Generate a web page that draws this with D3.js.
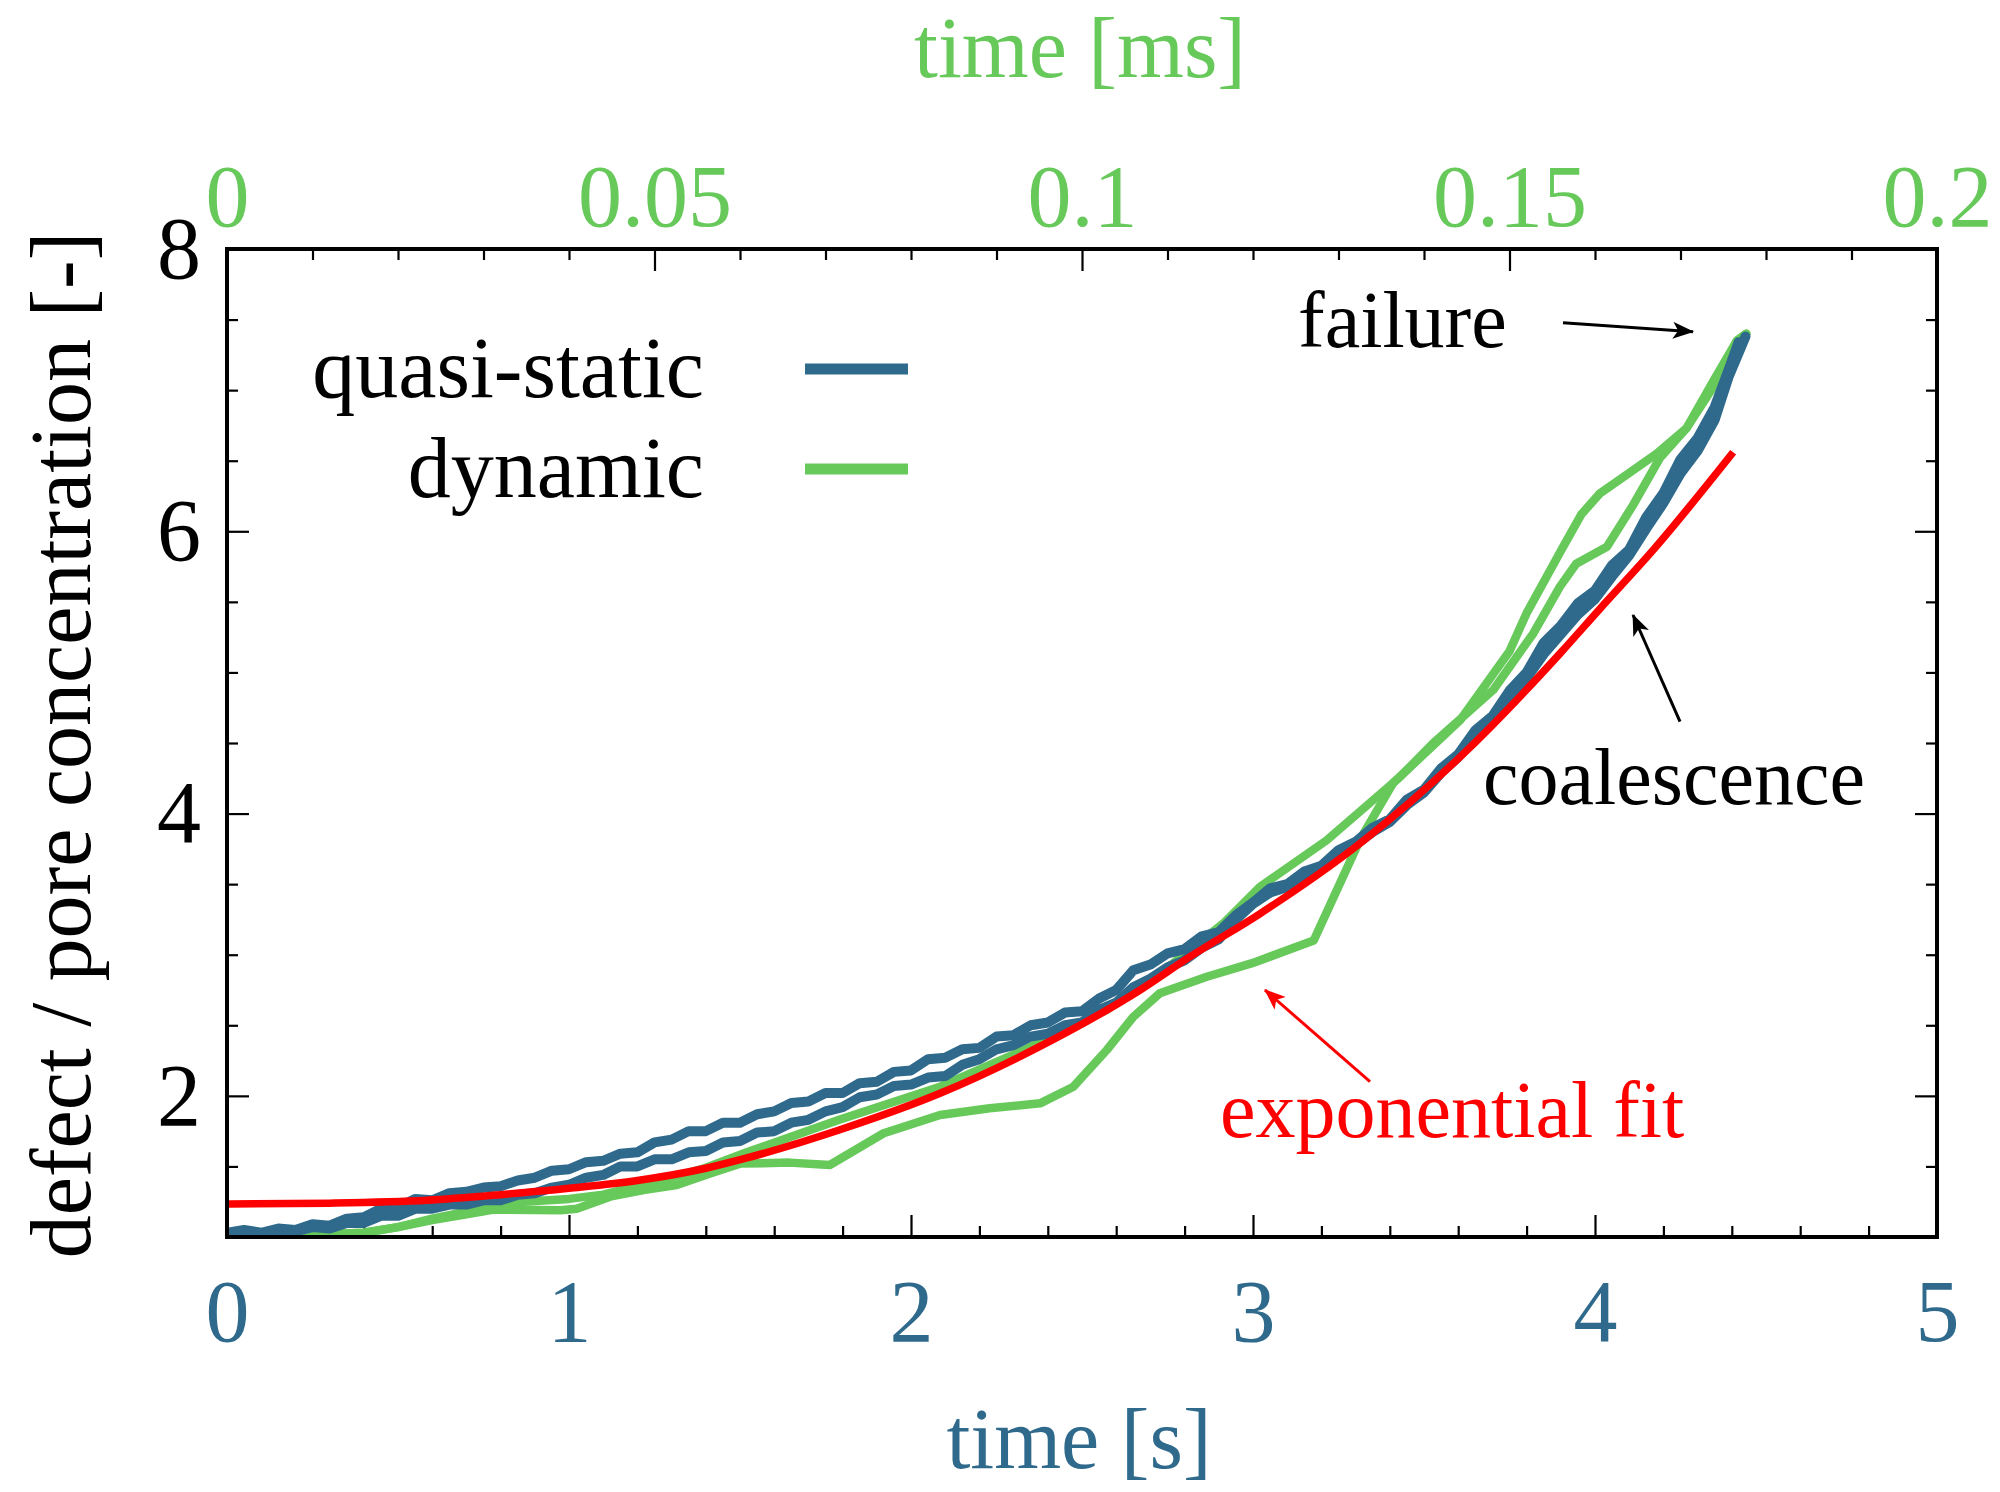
<!DOCTYPE html>
<html><head><meta charset="utf-8">
<script src="https://cdn.jsdelivr.net/npm/d3@7"></script>
<style>body{margin:0;background:#fff} svg{display:block} text{font-family:"Liberation Serif","Times New Roman",serif}</style>
</head><body><svg id="c" width="2000" height="1492"></svg>
<script>
// ---- data ----
const xTicksS = [0,1,2,3,4,5];
const xTicksMs = [0,0.05,0.1,0.15,0.2];
const xTickMsLabels = ["0","0.05","0.1","0.15","0.2"];
const yTicks = [2,4,6,8];
const legendNames = ["quasi-static","dynamic"];
const annotations = ["failure","coalescence","exponential fit"];

// quasi-static runs: [time s, concentration]
const quasiStatic1 = [[0,1.03],[0.05,1.05],[0.1,1.03],[0.15,1.06],[0.2,1.05],[0.25,1.09],[0.3,1.08],[0.35,1.13],[0.4,1.14],[0.45,1.20],[0.5,1.21],[0.55,1.27],[0.6,1.26],[0.65,1.31],[0.7,1.32],[0.75,1.35],[0.8,1.36],[0.85,1.40],[0.9,1.42],[0.95,1.47],[1.0,1.48],[1.05,1.53],[1.1,1.54],[1.15,1.59],[1.2,1.60],[1.25,1.67],[1.3,1.69],[1.35,1.75],[1.4,1.75],[1.45,1.81],[1.5,1.81],[1.55,1.87],[1.6,1.89],[1.65,1.95],[1.7,1.96],[1.75,2.02],[1.8,2.02],[1.85,2.09],[1.9,2.10],[1.95,2.17],[2.0,2.18],[2.05,2.26],[2.1,2.27],[2.15,2.33],[2.2,2.34],[2.25,2.42],[2.3,2.43],[2.35,2.50],[2.4,2.52],[2.45,2.59],[2.5,2.60],[2.55,2.69],[2.6,2.75],[2.65,2.89],[2.7,2.93],[2.75,3.01],[2.8,3.04],[2.85,3.13],[2.9,3.16],[2.95,3.28],[3.0,3.37],[3.05,3.47],[3.1,3.50],[3.15,3.59],[3.2,3.63],[3.25,3.74],[3.3,3.80],[3.35,3.90],[3.4,3.96],[3.45,4.10],[3.5,4.17],[3.55,4.32],[3.6,4.42],[3.65,4.59],[3.7,4.69],[3.75,4.87],[3.8,5.00],[3.85,5.21],[3.9,5.33],[3.95,5.49],[4.0,5.58],[4.05,5.76],[4.1,5.87],[4.15,6.10],[4.2,6.27],[4.25,6.51],[4.3,6.66],[4.35,6.88],[4.39,7.14],[4.42,7.34]];
const quasiStatic2 = [[0,1.02],[0.05,1.04],[0.1,1.02],[0.15,1.05],[0.2,1.04],[0.25,1.07],[0.3,1.06],[0.35,1.10],[0.4,1.10],[0.45,1.15],[0.5,1.15],[0.55,1.20],[0.6,1.20],[0.65,1.23],[0.7,1.23],[0.75,1.26],[0.8,1.26],[0.85,1.30],[0.9,1.31],[0.95,1.35],[1.0,1.37],[1.05,1.42],[1.1,1.44],[1.15,1.50],[1.2,1.50],[1.25,1.55],[1.3,1.55],[1.35,1.60],[1.4,1.61],[1.45,1.67],[1.5,1.68],[1.55,1.74],[1.6,1.75],[1.65,1.81],[1.7,1.83],[1.75,1.89],[1.8,1.92],[1.85,1.99],[1.9,2.01],[1.95,2.07],[2.0,2.08],[2.05,2.13],[2.1,2.14],[2.15,2.22],[2.2,2.26],[2.25,2.33],[2.3,2.36],[2.35,2.42],[2.4,2.44],[2.45,2.50],[2.5,2.52],[2.55,2.61],[2.6,2.66],[2.65,2.77],[2.7,2.83],[2.75,2.91],[2.8,2.96],[2.85,3.05],[2.9,3.11],[2.95,3.25],[3.0,3.36],[3.05,3.44],[3.1,3.48],[3.15,3.56],[3.2,3.61],[3.25,3.71],[3.3,3.78],[3.35,3.87],[3.4,3.94],[3.45,4.06],[3.5,4.15],[3.55,4.29],[3.6,4.40],[3.65,4.55],[3.7,4.66],[3.75,4.82],[3.8,4.96],[3.85,5.13],[3.9,5.27],[3.95,5.41],[4.0,5.52],[4.05,5.68],[4.1,5.83],[4.15,6.02],[4.2,6.20],[4.25,6.41],[4.3,6.57],[4.35,6.79],[4.39,7.09],[4.44,7.38]];

// dynamic runs: [time ms, concentration]
const dynamic1 = [[0,1.0],[0.008,1.01],[0.016,1.03],[0.020,1.07],[0.024,1.13],[0.028,1.18],[0.032,1.24],[0.040,1.27],[0.044,1.30],[0.048,1.36],[0.052,1.42],[0.056,1.49],[0.0608,1.60],[0.0716,1.83],[0.0834,2.065],[0.0932,2.325],[0.1029,2.61],[0.1107,2.94],[0.1165,3.22],[0.1208,3.48],[0.1286,3.81],[0.1372,4.26],[0.1411,4.50],[0.1481,4.876],[0.1528,5.278],[0.1559,5.608],[0.1578,5.77],[0.1614,5.89],[0.1645,6.19],[0.1676,6.52],[0.1707,6.73],[0.1738,7.06],[0.1766,7.35],[0.1777,7.40]];
const dynamic2 = [[0,1.0],[0.008,1.01],[0.016,1.03],[0.020,1.07],[0.024,1.12],[0.028,1.16],[0.0312,1.195],[0.039,1.19],[0.0409,1.20],[0.0448,1.286],[0.0487,1.333],[0.0526,1.368],[0.0565,1.45],[0.060,1.52],[0.0658,1.527],[0.0705,1.51],[0.0768,1.735],[0.0834,1.864],[0.0892,1.912],[0.0951,1.947],[0.099,2.065],[0.1029,2.325],[0.106,2.56],[0.1091,2.727],[0.1146,2.844],[0.1199,2.94],[0.1271,3.10],[0.1325,3.813],[0.1364,4.217],[0.1442,4.66],[0.1500,5.15],[0.152,5.42],[0.1559,5.85],[0.1584,6.12],[0.1606,6.27],[0.1637,6.40],[0.1672,6.55],[0.1707,6.73],[0.1738,7.02],[0.1766,7.35],[0.1777,7.40]];

// exponential fit: [time s, concentration]
const expFit = [[0,1.234],[0.3,1.24],[0.585,1.26],[0.8,1.30],[1.0,1.345],[1.2,1.40],[1.4,1.487],[1.52,1.56],[1.79,1.758],[2.085,2.018],[2.377,2.35],[2.67,2.75],[2.816,2.986],[3.02,3.29],[3.313,3.789],[3.605,4.40],[3.898,5.135],[4.014,5.45],[4.171,5.87],[4.404,6.56]];

// ---- drawing ----
const BLUE = "#2f6a8c", GREEN = "#66c95a", RED = "#ff0000";
const svg = d3.select("#c");
const L = 227, R = 1937, T = 249, B = 1237;
const x = d3.scaleLinear().domain([0,5]).range([L,R]);
const xMs = d3.scaleLinear().domain([0,0.2]).range([L,R]);
const y = d3.scaleLinear().domain([1,8]).range([B,T]);

function styleAxis(g, color, size){
  g.select(".domain").remove();
  g.selectAll(".tick line").attr("stroke","#000").attr("stroke-width",2.2);
  g.selectAll("text").attr("fill",color).style("font-family",'"Liberation Serif","Times New Roman",serif').style("font-size",size+"px");
}
const minorS = d3.range(0,5.001,0.2).filter(v=>Math.abs(v-Math.round(v))>1e-6);
const minorMs = d3.range(0,0.2001,0.01).filter(v=>Math.abs(v/0.05-Math.round(v/0.05))>1e-6);
const minorY = d3.range(1.5,8,0.5).filter(v=>v%2!==0);

// bottom
svg.append("g").attr("transform",`translate(0,${B})`)
  .call(d3.axisBottom(x).tickValues(xTicksS).tickSize(-22).tickPadding(42).tickFormat(d3.format("d")))
  .call(g=>styleAxis(g,BLUE,88));
svg.append("g").attr("transform",`translate(0,${B})`)
  .call(d3.axisBottom(x).tickValues(minorS).tickSize(-11).tickFormat(""))
  .call(g=>styleAxis(g,BLUE,88));
// top
svg.append("g").attr("transform",`translate(0,${T})`)
  .call(d3.axisTop(xMs).tickValues(xTicksMs).tickSize(-22).tickPadding(23).tickFormat((d,i)=>xTickMsLabels[i]))
  .call(g=>styleAxis(g,GREEN,88));
svg.append("g").attr("transform",`translate(0,${T})`)
  .call(d3.axisTop(xMs).tickValues(minorMs).tickSize(-11).tickFormat(""))
  .call(g=>styleAxis(g,GREEN,88));
// left
svg.append("g").attr("transform",`translate(${L},0)`)
  .call(d3.axisLeft(y).tickValues(yTicks).tickSize(-22).tickPadding(26).tickFormat(d3.format("d")))
  .call(g=>styleAxis(g,"#000",88));
svg.append("g").attr("transform",`translate(${L},0)`)
  .call(d3.axisLeft(y).tickValues(minorY).tickSize(-11).tickFormat(""))
  .call(g=>styleAxis(g,"#000",88));
// right
svg.append("g").attr("transform",`translate(${R},0)`)
  .call(d3.axisRight(y).tickValues(yTicks).tickSize(-22).tickFormat(""))
  .call(g=>styleAxis(g,"#000",88));
svg.append("g").attr("transform",`translate(${R},0)`)
  .call(d3.axisRight(y).tickValues(minorY).tickSize(-11).tickFormat(""))
  .call(g=>styleAxis(g,"#000",88));

// clip
svg.append("defs").append("clipPath").attr("id","pc").append("rect")
  .attr("x",L).attr("y",T).attr("width",R-L).attr("height",B-T);
const plot = svg.append("g").attr("clip-path","url(#pc)");

const lineS = d3.line().x(d=>x(d[0])).y(d=>y(d[1]));
const lineMs = d3.line().x(d=>xMs(d[0])).y(d=>y(d[1]));
const lineFit = d3.line().x(d=>x(d[0])).y(d=>y(d[1])).curve(d3.curveMonotoneX);

[dynamic1, dynamic2].forEach(s=>plot.append("path").attr("d",lineMs(s))
  .attr("fill","none").attr("stroke",GREEN).attr("stroke-width",8.5).attr("stroke-linejoin","round").attr("stroke-linecap","round"));
[quasiStatic1, quasiStatic2].forEach(s=>plot.append("path").attr("d",lineS(s))
  .attr("fill","none").attr("stroke",BLUE).attr("stroke-width",10).attr("stroke-linejoin","round").attr("stroke-linecap","round"));
plot.append("path").attr("d",lineFit(expFit))
  .attr("fill","none").attr("stroke",RED).attr("stroke-width",7.5);

// frame
svg.append("rect").attr("x",L).attr("y",T).attr("width",R-L).attr("height",B-T)
  .attr("fill","none").attr("stroke","#000").attr("stroke-width",4);

// axis titles
svg.append("text").attr("x",1080).attr("y",77).attr("text-anchor","middle")
  .attr("fill",GREEN).style("font-size","86px").text("time [ms]");
svg.append("text").attr("x",1079).attr("y",1468).attr("text-anchor","middle")
  .attr("fill",BLUE).style("font-size","86px").text("time [s]");
svg.append("text").attr("transform","translate(90,745) rotate(-90)").attr("text-anchor","middle")
  .attr("fill","#000").style("font-size","86px").text("defect / pore concentration [-]");

// legend
const legColors = [BLUE, GREEN];
const legY = [397, 497];
legendNames.forEach((n,i)=>{
  svg.append("text").attr("x",704).attr("y",legY[i]).attr("text-anchor","end")
    .style("font-size","86px").attr("fill","#000").text(n);
  svg.append("line").attr("x1",805).attr("x2",908).attr("y1",legY[i]-28).attr("y2",legY[i]-28)
    .attr("stroke",legColors[i]).attr("stroke-width",11);
});

// annotations
const defs = svg.select("defs");
function marker(id,color){
  defs.append("marker").attr("id",id).attr("viewBox","0 0 20 16").attr("refX",19).attr("refY",8)
    .attr("markerWidth",22).attr("markerHeight",17).attr("markerUnits","userSpaceOnUse").attr("orient","auto")
    .append("path").attr("d","M0,0 L20,8 L0,16 L5,8 Z").attr("fill",color);
}
marker("ak","#000"); marker("ar",RED);
function arrow(x1,y1,x2,y2,color,m){
  svg.append("line").attr("x1",x1).attr("y1",y1).attr("x2",x2).attr("y2",y2)
    .attr("stroke",color).attr("stroke-width",3).attr("marker-end",`url(#${m})`);
}
svg.append("text").attr("x",1298).attr("y",347).style("font-size","80px").attr("fill","#000").text(annotations[0]);
arrow(1563,322.7,1693,331.7,"#000","ak");
svg.append("text").attr("x",1483).attr("y",804).style("font-size","80px").attr("fill","#000").text(annotations[1]);
arrow(1680,721.7,1633,615,"#000","ak");
svg.append("text").attr("x",1220).attr("y",1137).style("font-size","80px").attr("fill",RED).text(annotations[2]);
arrow(1370,1081.7,1265,990,RED,"ar");
</script></body></html>
